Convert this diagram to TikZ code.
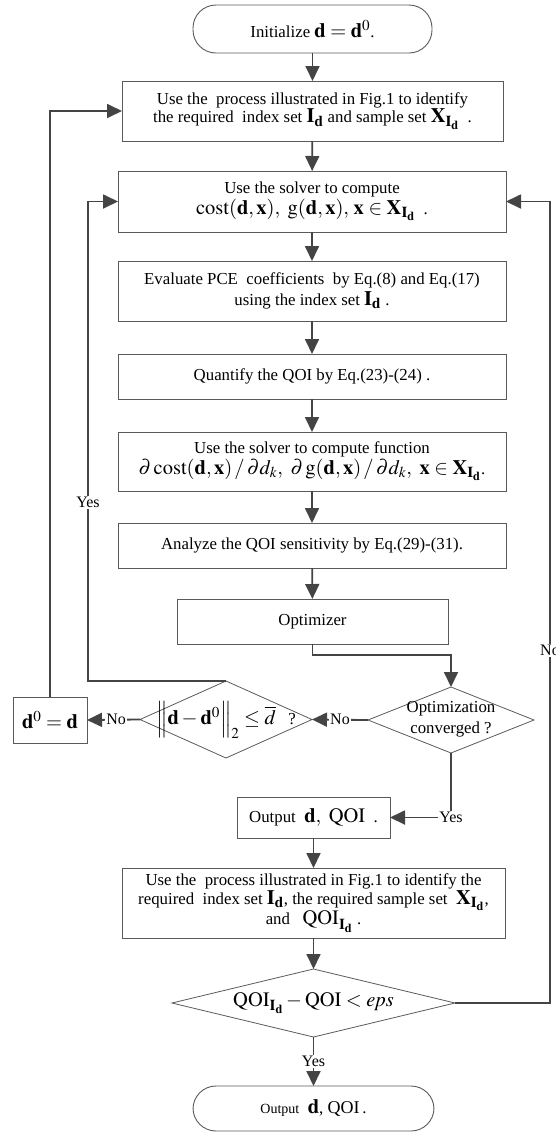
\documentclass[tikz,border=0pt]{standalone}
\usepackage{mathptmx}
\usepackage{fontspec}
\setmainfont{Liberation Serif}
\usetikzlibrary{arrows.meta,shapes.geometric}
\definecolor{linec}{HTML}{444444}
\definecolor{bordc}{HTML}{5A5A5A}
\newcommand\tfont{\fontsize{16.8}{20.5}\selectfont}
\newcommand\mfont{\fontsize{20.5}{20.5}\selectfont}
\newcommand\lfont{\fontsize{16}{18}\selectfont}
\newcommand\Id{\mathbf{I}_{\mathbf{d}}}
\newcommand\XId{\mathbf{X}_{\mathbf{I}_{\mathbf{d}}}}
\begin{document}
\begin{tikzpicture}[x=1pt,y=-1pt,
  box/.style={draw=bordc, line width=0.9pt, rectangle, inner sep=0pt, outer sep=0pt, align=center, font=\tfont},
  term/.style={box, rounded corners=23pt},
  dia/.style={draw=bordc, line width=0.8pt, diamond, inner sep=0pt, outer sep=0pt},
  txt/.style={inner sep=0pt, align=center, font=\tfont},
  conn/.style={draw=linec, line width=1.8pt},
  arr/.style={conn, -{Triangle[length=15pt,width=14pt]}},
  lab/.style={fill=white, inner sep=1pt, font=\lfont}]
\useasboundingbox (0,0) rectangle (555,1133);
% nodes
\node[term, minimum width=239pt, minimum height=48pt] (start) at (312.5,29) {Initialize {\mfont$\mathbf{d}=\mathbf{d}^{0}$}.};
\node[box, minimum width=381pt, minimum height=60pt] (b1) at (312.5,111) {Use the\ \ process illustrated in Fig.1 to identify\\[-2pt] the required\ \ index set {\mfont$\Id$} and sample set {\mfont$\XId$}\ \ .};
\node[box, minimum width=388pt, minimum height=61pt] (b2) at (312,201.5) {Use the solver to compute\\ {\mfont$\mathrm{cost}(\mathbf{d},\mathbf{x}),\ \mathrm{g}(\mathbf{d},\mathbf{x}),\,\mathbf{x}\in\XId$}\ \ .};
\node[box, minimum width=388pt, minimum height=60pt] (b3) at (312,291) {Evaluate PCE\ \ coefficients\ \ by Eq.(8) and Eq.(17)\\ using the index set {\mfont$\Id$}\ .};
\node[box, minimum width=388pt, minimum height=45pt] (b4) at (312,376.5) {Quantify the QOI by Eq.(23)-(24) .};
\node[box, minimum width=388pt, minimum height=59pt] (b5) at (312,461.5) {Use the solver to compute function\\ {\mfont$\partial\,\mathrm{cost}(\mathbf{d},\mathbf{x})\,/\,\partial d_{k},\ \partial\,\mathrm{g}(\mathbf{d},\mathbf{x})\,/\,\partial d_{k},\ \mathbf{x}\in\XId$}.};
\node[box, minimum width=388pt, minimum height=45pt] (b6) at (312,545.5) {Analyze the QOI sensitivity by Eq.(29)-(31).};
\node[box, minimum width=271pt, minimum height=45pt] (opt) at (312.5,621.5) {Optimizer};
\node[dia, minimum width=166pt, minimum height=66pt] (conv) at (451,720) {};
\node[txt] at (451,719) {Optimization\\converged ?};
\node[dia, minimum width=172pt, minimum height=77pt] (norm) at (226,719.5) {};
\node[txt] at (226,720) {{\mfont$\Big\|\mathbf{d}-\mathbf{d}^{0}\Big\|_{2}\le\overline{d}$}\ \ \ ?};
\node[box, minimum width=74pt, minimum height=46pt, font=\mfont] (d0) at (50,720) {$\mathbf{d}^{0}=\mathbf{d}$};
\node[box, minimum width=153pt, minimum height=41pt] (out) at (313.5,817.5) {Output\ \ {\mfont$\mathbf{d},\ \mathrm{QOI}$}\ \ .};
\node[box, minimum width=383pt, minimum height=70pt] (b7) at (313.5,903) {Use the\ \ process illustrated in Fig.1 to identify the\\[-2pt] required\ \ index set {\mfont$\Id$}, the required sample set\ \ {\mfont$\XId$},\\ and\ \ \ {\mfont$\mathrm{QOI}_{\mathbf{I}_{\mathbf{d}}}$}\ .};
\node[dia, minimum width=283pt, minimum height=68pt] (qoi) at (313.5,1003) {};
\node[txt] at (qoi) {{\mfont$\mathrm{QOI}_{\mathbf{I}_{\mathbf{d}}}-\mathrm{QOI}<\mathit{eps}$}};
\node[term, minimum width=241pt, minimum height=45pt] (end) at (313.5,1108.5) {{\fontsize{14}{16}\selectfont Output}\ \ {\mfont$\mathbf{d}$}, {\fontsize{18}{18}\selectfont QOI}\,.};
% coordinates
\coordinate (yl) at (88,681);
\coordinate (rr) at (550,1003);
% connectors
\draw[arr] (start) -- (b1);
\draw[arr] (b1) -- (b2);
\draw[arr] (b2) -- (b3);
\draw[arr] (b3) -- (b4);
\draw[arr] (b4) -- (b5);
\draw[arr] (b5) -- (b6);
\draw[arr] (b6) -- (opt);
\draw[arr] (opt.south) -- ++(0,11) -| (conv.north);
\draw[arr] (conv.west) -- node[lab]{No} (norm.east);
\draw[arr] (norm.west) -- node[lab, pos=0.45]{No} (d0.east);
\draw[arr] (d0.north) |- (b1.west);
\draw[arr] (norm.north) -- (yl) |- node[lab, pos=0.186]{Yes} (b2.west);
\draw[arr] (conv.south) |- node[lab, pos=0.5]{Yes} (out.east);
\draw[arr] (out) -- (b7);
\draw[arr] (b7) -- (qoi);
\draw[arr] (qoi.east) -- (rr) |- node[lab, pos=0.22]{No} (b2.east);
\draw[arr] (qoi.south) -- node[lab]{Yes} (end.north);
\end{tikzpicture}
\end{document}
